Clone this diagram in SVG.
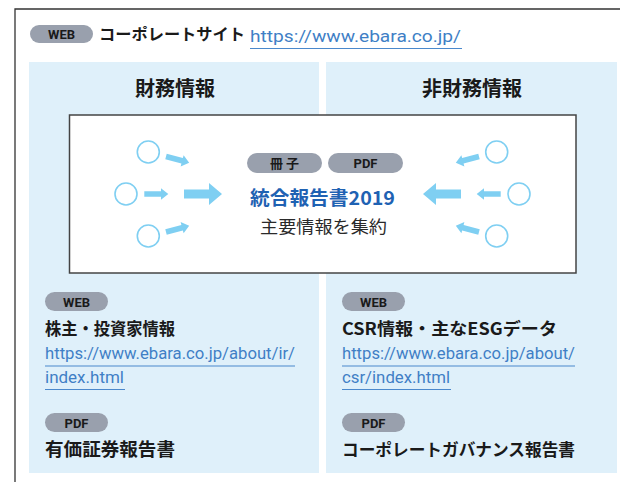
<svg xmlns="http://www.w3.org/2000/svg" width="620" height="482" viewBox="0 0 620 482">
<defs>
<style>
.jp{font-family:"Noto Sans CJK JP","Noto Sans",sans-serif;fill:#1a1a1a}
.b{font-weight:bold}
.url{font-family:Roboto,"Noto Sans",sans-serif;fill:#3f7fc6;font-size:16px}
.ul{stroke:#4a88cc;stroke-width:1.2}
.badge{fill:#99a0ad}
.bt{font-family:Roboto,"Noto Sans CJK JP",sans-serif;font-weight:bold;font-size:13px;fill:#1a1a1a;text-anchor:middle}
.panel{fill:#dff0fa}
.circ{fill:#fff;stroke:#7fcff2;stroke-width:1.6}
.arr{fill:#7fcff2}
</style>
<path id="sa" d="M0,-2.8 L16.7,-2.8 L16.7,-5.8 L24,0 L16.7,5.8 L16.7,2.8 L0,2.8Z"/>
<path id="ba" d="M0,-4.6 L25,-4.6 L25,-11 L38,0 L25,11 L25,4.6 L0,4.6Z"/>
</defs>
<rect width="620" height="482" fill="#fff"/>
<path d="M15,482 L15,9 L620,9" fill="none" stroke="#333" stroke-width="1.3"/>

<g id="corporate">
<rect class="badge" x="30" y="25" width="63" height="18" rx="9"/>
<text class="bt" x="61.5" y="38.5">WEB</text>
<text class="jp b" x="99" y="40" font-size="16" textLength="146" lengthAdjust="spacingAndGlyphs">コーポレートサイト</text>
<text class="url" x="250" y="42" font-size="19" textLength="211" lengthAdjust="spacingAndGlyphs">https://www.ebara.co.jp/</text>
<line class="ul" x1="250" y1="48.5" x2="462" y2="48.5"/>
</g>

<g id="financial-panel">
<rect class="panel" x="29" y="62" width="290" height="411"/>
<text class="jp b" x="175" y="96" font-size="20" text-anchor="middle">財務情報</text>
</g>
<g id="nonfinancial-panel">
<rect class="panel" x="326" y="62" width="291" height="411"/>
<text class="jp b" x="472" y="96" font-size="20" text-anchor="middle">非財務情報</text>
</g>

<g id="integrated-report">
<rect x="69.5" y="115" width="506.5" height="158" fill="#fff" stroke="#444" stroke-width="1.5"/>
<rect class="badge" x="247" y="153" width="75" height="20" rx="10"/>
<text class="bt" x="284.5" y="167.5" font-size="13">冊 子</text>
<rect class="badge" x="328" y="153" width="75" height="20" rx="10"/>
<text class="bt" x="365.5" y="167.5" font-size="13">PDF</text>
<text class="jp b" x="250" y="205" font-size="19" style="fill:#1f62b3" textLength="145" lengthAdjust="spacingAndGlyphs">統合報告書2019</text>
<text class="jp" x="260" y="233" font-size="17" style="fill:#2a2a2a" textLength="127" lengthAdjust="spacingAndGlyphs">主要情報を集約</text>
</g>

<g id="sources-left">
<circle class="circ" cx="148.3" cy="152" r="11"/>
<circle class="circ" cx="126" cy="194" r="11"/>
<circle class="circ" cx="148.3" cy="236" r="11"/>
</g>
<g id="sources-right">
<circle class="circ" cx="496.7" cy="152" r="11"/>
<circle class="circ" cx="519" cy="194" r="11"/>
<circle class="circ" cx="496.7" cy="236" r="11"/>
</g>

<g id="connectors" class="arr">
<use href="#sa" transform="translate(166,156.5) rotate(15)"/>
<use href="#sa" transform="translate(144.3,194)"/>
<use href="#sa" transform="translate(166,232) rotate(-15)"/>
<use href="#ba" transform="translate(184,194)"/>
<use href="#sa" transform="translate(479,156.5) rotate(165)"/>
<use href="#sa" transform="translate(500.7,194) rotate(180)"/>
<use href="#sa" transform="translate(479,232) rotate(195)"/>
<use href="#ba" transform="translate(461,194) rotate(180)"/>
</g>

<g id="ir-web">
<rect class="badge" x="45" y="292" width="63" height="19" rx="9.5"/>
<text class="bt" x="76.5" y="306.5">WEB</text>
<text class="jp b" x="45" y="335" font-size="17" textLength="130" lengthAdjust="spacingAndGlyphs">株主・投資家情報</text>
<text class="url" x="45" y="359" textLength="250" lengthAdjust="spacingAndGlyphs">https://www.ebara.co.jp/about/ir/</text>
<line class="ul" x1="45" y1="366" x2="295" y2="366"/>
<text class="url" x="45" y="383" textLength="79" lengthAdjust="spacingAndGlyphs">index.html</text>
<line class="ul" x1="45" y1="389.5" x2="125" y2="389.5"/>
</g>
<g id="securities-pdf">
<rect class="badge" x="45" y="413" width="63" height="19" rx="9.5"/>
<text class="bt" x="76.5" y="427.5">PDF</text>
<text class="jp b" x="45" y="456" font-size="18" textLength="130" lengthAdjust="spacingAndGlyphs">有価証券報告書</text>
</g>

<g id="csr-web">
<rect class="badge" x="342" y="292" width="63" height="19" rx="9.5"/>
<text class="bt" x="373.5" y="306.5">WEB</text>
<text class="jp b" x="342" y="335" font-size="17" textLength="215" lengthAdjust="spacingAndGlyphs">CSR情報・主なESGデータ</text>
<text class="url" x="342" y="359" textLength="233" lengthAdjust="spacingAndGlyphs">https://www.ebara.co.jp/about/</text>
<line class="ul" x1="342" y1="366" x2="575" y2="366"/>
<text class="url" x="342" y="383" textLength="108" lengthAdjust="spacingAndGlyphs">csr/index.html</text>
<line class="ul" x1="342" y1="389.5" x2="451" y2="389.5"/>
</g>
<g id="governance-pdf">
<rect class="badge" x="342" y="413" width="63" height="19" rx="9.5"/>
<text class="bt" x="373.5" y="427.5">PDF</text>
<text class="jp b" x="342" y="456" font-size="17" textLength="233" lengthAdjust="spacingAndGlyphs">コーポレートガバナンス報告書</text>
</g>
</svg>
